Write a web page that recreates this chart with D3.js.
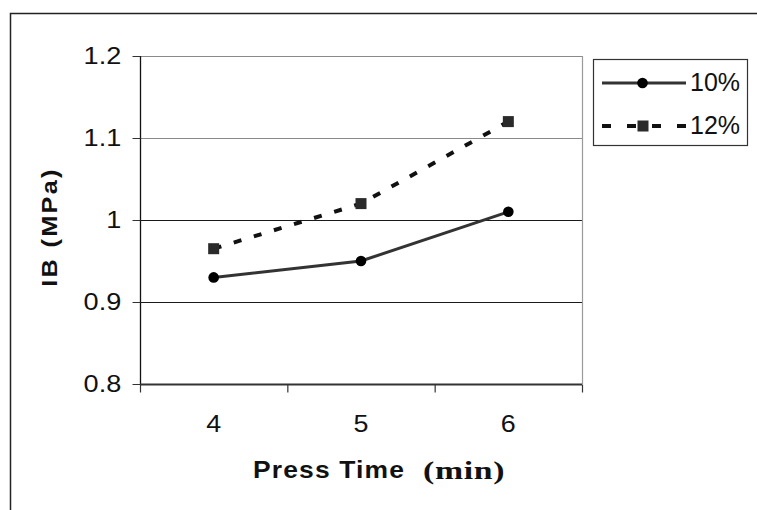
<!DOCTYPE html>
<html><head><meta charset="utf-8">
<script src="https://cdn.jsdelivr.net/npm/d3@7"></script>
<style>body{margin:0;background:#fff}svg{display:block}</style>
</head><body>
<svg id="c" width="757" height="510"></svg>
<script>
const categories = ["4", "5", "6"];
const seriesNames = ["10%", "12%"];
const values10 = [0.93, 0.95, 1.01];
const values12 = [0.965, 1.02, 1.12];
const yTicks = [0.8, 0.9, 1, 1.1, 1.2];
const yTickLabels = ["0.8", "0.9", "1", "1.1", "1.2"];

const svg = d3.select("#c");
const L = 140, R = 582, T = 56, B = 384;
const sans = "Arial, 'Liberation Sans', sans-serif";

// outer frame (only top & left visible)
svg.append("path").attr("d", "M10.5,520 V13.5 H770").attr("fill", "none").attr("stroke", "#222").attr("stroke-width", 1.5);

const x = d3.scaleBand().domain(categories).range([L, R]);
const y = d3.scaleLinear().domain([0.8, 1.2]).range([B, T]);

// gridlines
svg.append("g").selectAll("line").data(yTicks.filter(v => v > 0.8)).join("line")
  .attr("x1", L).attr("x2", R)
  .attr("y1", d => Math.round(y(d)) + 0.5).attr("y2", d => Math.round(y(d)) + 0.5)
  .attr("stroke", d => d >= 1.05 ? "#8a8a8a" : "#1a1a1a").attr("stroke-width", 1);
// right plot border
svg.append("line").attr("x1", R + 0.5).attr("x2", R + 0.5).attr("y1", T).attr("y2", B)
  .attr("stroke", "#9a9a9a").attr("stroke-width", 1.2);

// y axis
const yAxis = d3.axisLeft(y).tickValues(yTicks).tickFormat((d, i) => yTickLabels[i]).tickSize(8).tickPadding(9);
const gy = svg.append("g").attr("transform", `translate(${L + 0.5},0)`).call(yAxis);
gy.select(".domain").attr("stroke", "#111").attr("stroke-width", 1.3).attr("d", `M0,${T}V${B}`);
gy.selectAll(".tick line").attr("stroke", "#333");
gy.selectAll(".tick text").attr("font-family", sans).attr("font-size", 24).attr("transform", "scale(1.13,1)").attr("fill", "#111");

// x axis
const xAxis = d3.axisBottom(x).tickSize(0).tickPadding(30);
const gx = svg.append("g").attr("transform", `translate(0,${B + 0.5})`).call(xAxis);
gx.select(".domain").attr("stroke", "#333").attr("stroke-width", 2).attr("d", `M${L},0H${R}`);
gx.selectAll(".tick text").attr("font-family", sans).attr("font-size", 24).attr("transform", "scale(1.12,1)").attr("fill", "#111");
// category boundary ticks
const bounds = categories.map(c => x(c)).concat([x(categories[categories.length - 1]) + x.bandwidth()]);
gx.append("g").selectAll("line").data(bounds).join("line")
  .attr("x1", d => d + 0.5).attr("x2", d => d + 0.5).attr("y1", 0).attr("y2", 8)
  .attr("stroke", "#333").attr("stroke-width", 1.2);

const cx = c => x(c) + x.bandwidth() / 2;
const line = d3.line().x((d, i) => cx(categories[i])).y(d => y(d));

// 12% dashed
svg.append("path").datum(values12).attr("d", line).attr("fill", "none")
  .attr("stroke", "#111").attr("stroke-width", 4).attr("stroke-dasharray", "8,13");
svg.append("g").selectAll("rect").data(values12).join("rect")
  .attr("x", (d, i) => cx(categories[i]) - 5.5).attr("y", d => y(d) - 5.5)
  .attr("width", 11).attr("height", 11).attr("fill", "#2a2a2a");

// 10% solid
svg.append("path").datum(values10).attr("d", line).attr("fill", "none")
  .attr("stroke", "#333").attr("stroke-width", 3);
svg.append("g").selectAll("circle").data(values10).join("circle")
  .attr("cx", (d, i) => cx(categories[i])).attr("cy", d => y(d)).attr("r", 5.3).attr("fill", "#000");

// axis titles
svg.append("text").attr("transform", "translate(57,227) rotate(-90) scale(1.15,1)").attr("text-anchor", "middle")
  .attr("font-family", sans).attr("font-weight", "bold").attr("font-size", 22)
  .attr("letter-spacing", "2px").attr("fill", "#111").text("IB (MPa)");
svg.append("text").attr("transform", "translate(253,478) scale(1.15,1)")
  .attr("font-family", sans).attr("font-weight", "bold").attr("font-size", 23)
  .attr("letter-spacing", "1px").attr("fill", "#111").text("Press Time");
svg.append("text").attr("transform", "translate(423,479) scale(1.3,1)")
  .attr("font-family", "'Times New Roman', 'Liberation Serif', serif").attr("font-weight", "bold").attr("font-size", 26)
  .attr("letter-spacing", "0.5px").attr("fill", "#111").text("(min)");

// legend
const lg = svg.append("g");
lg.append("rect").attr("x", 593.5).attr("y", 59.5).attr("width", 154).attr("height", 86)
  .attr("fill", "#fff").attr("stroke", "#333").attr("stroke-width", 1.2);
const rows = [83, 126];
lg.append("line").attr("x1", 602).attr("x2", 686).attr("y1", rows[0]).attr("y2", rows[0]).attr("stroke", "#333").attr("stroke-width", 3);
lg.append("circle").attr("cx", 642.5).attr("cy", rows[0]).attr("r", 5.3).attr("fill", "#000");
lg.append("line").attr("x1", 602).attr("x2", 686).attr("y1", rows[1]).attr("y2", rows[1]).attr("stroke", "#111").attr("stroke-width", 4).attr("stroke-dasharray", "9,16");
lg.append("rect").attr("x", 637.5).attr("y", rows[1] - 5.5).attr("width", 11).attr("height", 11).attr("fill", "#2a2a2a");
lg.selectAll("text.l").data(seriesNames).join("text").attr("class", "l")
  .attr("x", 690).attr("y", (d, i) => rows[i] + 8)
  .attr("font-family", sans).attr("font-size", 25).attr("fill", "#111").text(d => d);
</script>
</body></html>
